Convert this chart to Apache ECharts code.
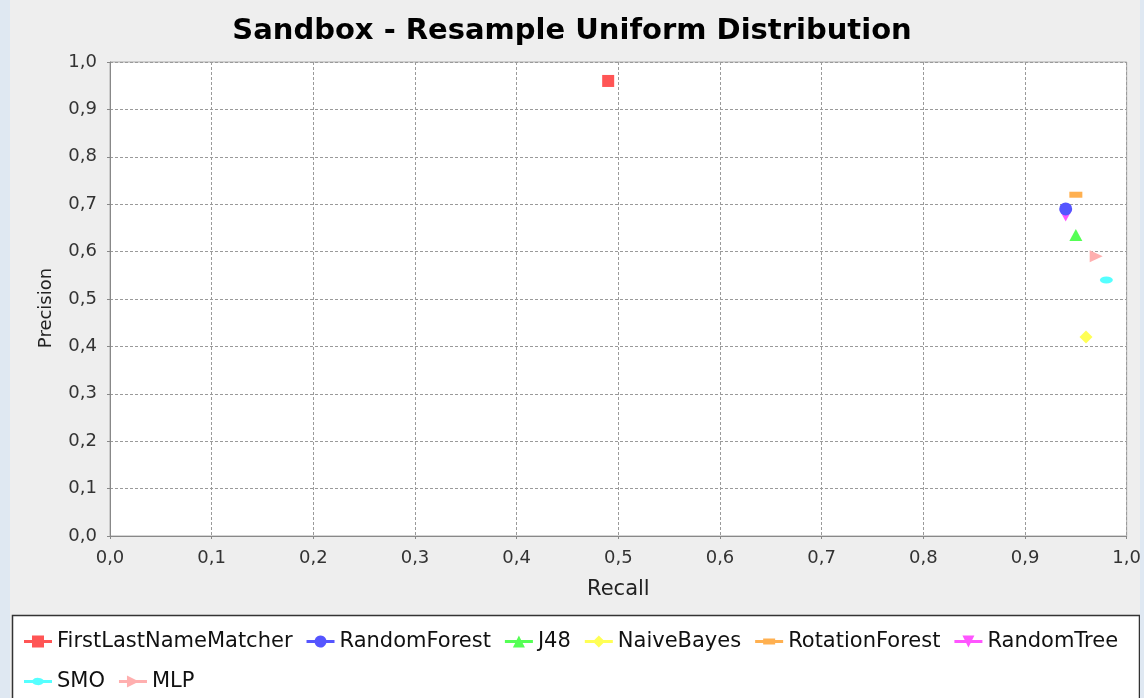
<!DOCTYPE html>
<html><head><meta charset="utf-8">
<script src="https://cdn.jsdelivr.net/npm/echarts@6/dist/echarts.min.js"></script>
<style>html,body{margin:0;padding:0;background:#eeeeee;}#c{width:1144px;height:698px;}</style>
</head><body><div id="c"></div>
<script>
const titleText = 'Sandbox - Resample Uniform Distribution';
const xName = 'Recall';
const yName = 'Precision';
const seriesNames = ['FirstLastNameMatcher','RandomForest','J48','NaiveBayes','RotationForest','RandomTree','SMO','MLP'];
const recall    = [0.49, 0.94, 0.95, 0.96, 0.95, 0.94, 0.98, 0.97];
const precision = [0.96, 0.69, 0.635, 0.42, 0.72, 0.675, 0.54, 0.59];
const colors = ['#ff5555','#5555ff','#55ff55','#ffff55','#ffb050','#ff55ff','#55ffff','#ffafaf'];
const symbols = ['rect','circle','triangle','diamond','rect','triangle','circle','triangle'];
const symSizes = [[12,12],[13,13],[13,12],[13,13],[13,6],[12,11],[13,7],[12,13]];
const symRot = [0,0,0,0,0,180,0,-90];
const legendIcons = [
 'path://M0,4.5H8V0H20V4.5H28V7.5H20V12H8V7.5H0Z',
 'path://M0,4.5H8.19A6,6 0 0 1 19.81,4.5H28V7.5H19.81A6,6 0 0 1 8.19,7.5H0Z',
 'path://M0,4.5H11.75L14,0L16.25,4.5H28V7.5H17.75L20,12H8L10.25,7.5H0Z',
 'path://M0,4.5H9.5L14,0L18.5,4.5H28V7.5H18.5L14,12L9.5,7.5H0Z',
 'path://M0,4.5H8V3H20V4.5H28V7.5H20V9H8V7.5H0Z',
 'path://M0,4.5H10.25L8,0H20L17.75,4.5H28V7.5H16.25L14,12L11.75,7.5H0Z',
 'path://M0,4.5H8.58A6,3.5 0 0 1 19.42,4.5H28V7.5H19.42A6,3.5 0 0 1 8.58,7.5H0Z',
 'path://M0,4.5H8V0L17,4.5H28V7.5H17L8,12V7.5H0Z'
];
const fmt = v => v.toFixed(1).replace('.', ',');
const chart = echarts.init(document.getElementById('c'), null, {renderer:'canvas'});
const font = 'DejaVu Sans';
const series = seriesNames.map((n,i)=>({
  name:n, type:'scatter', data:[[recall[i],precision[i]]],
  symbol:symbols[i], symbolSize:symSizes[i], symbolRotate:symRot[i],
  itemStyle:{color:colors[i], opacity:1}, z: 10 - i
}));
const legendData = seriesNames.map((n,i)=>({name:n, icon:legendIcons[i], itemStyle:{color:colors[i]}}));
const legendCommon = {orient:'horizontal', left:19, itemWidth:28, itemHeight:12, itemGap:14,
  symbolKeepAspect:true, selectedMode:false,
  textStyle:{fontFamily:font, fontSize:21, color:'#111'}};
chart.setOption({
  backgroundColor:'#eeeeee',
  animation:false,
  color:colors,
  title:{text:titleText, left:'center', top:12,
    textStyle:{fontFamily:font, fontWeight:'bold', fontSize:29, color:'#000'}},
  graphic:[
    {type:'rect', shape:{x:0,y:0,width:10,height:698}, style:{fill:'#dfe8f2'}, silent:true},
    {type:'rect', shape:{x:1140,y:0,width:4,height:698}, style:{fill:'#dfe8f2'}, silent:true},
    {type:'rect', shape:{x:12.5,y:615.5,width:1127,height:90}, style:{fill:'#ffffff', stroke:'#333', lineWidth:1.5}, silent:true, z:-1}
  ],
  legend:[
    Object.assign({top:626, data:legendData.slice(0,6)}, legendCommon),
    Object.assign({top:666, data:legendData.slice(6)}, legendCommon)
  ],
  grid:{left:110, right:17, top:62, bottom:162, show:true, backgroundColor:'#ffffff', borderColor:'#aaa', borderWidth:1},
  xAxis:{type:'value', min:0, max:1, interval:0.1, name:xName, nameLocation:'middle', nameGap:43,
    nameTextStyle:{fontFamily:font, fontSize:21, color:'#222'},
    axisLine:{show:true, lineStyle:{color:'#888'}},
    axisTick:{show:true, length:3, inside:false, lineStyle:{color:'#888'}},
    axisLabel:{formatter:fmt, fontFamily:font, fontSize:18, color:'#333', margin:13},
    splitLine:{show:true, lineStyle:{color:'#9a9a9a', type:[3,2], width:1}}},
  yAxis:{type:'value', min:0, max:1, interval:0.1, name:yName, nameLocation:'middle', nameGap:55, nameRotate:90,
    nameTextStyle:{fontFamily:font, fontSize:18, color:'#222', padding:[0,18,0,0]},
    axisLine:{show:true, lineStyle:{color:'#888'}},
    axisTick:{show:true, length:3, inside:false, lineStyle:{color:'#888'}},
    axisLabel:{formatter:fmt, fontFamily:font, fontSize:18, color:'#333', margin:13},
    splitLine:{show:true, lineStyle:{color:'#9a9a9a', type:[3,2], width:1}}},
  series:series
});
</script></body></html>
